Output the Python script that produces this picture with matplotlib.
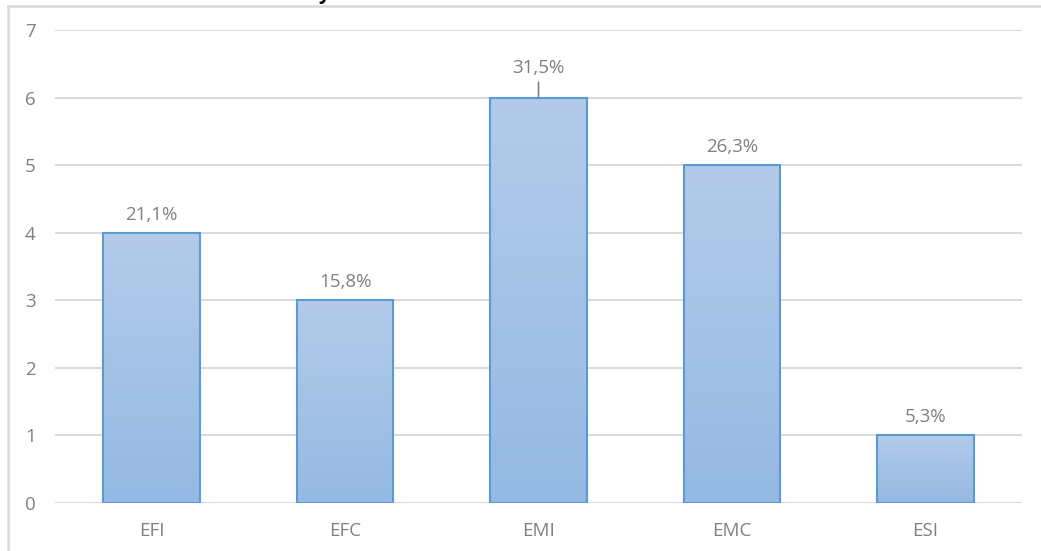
import numpy as np
import matplotlib
matplotlib.use("Agg")
import matplotlib.pyplot as plt
from matplotlib.lines import Line2D
from matplotlib.colors import LinearSegmentedColormap

categories = ["EFI", "EFC", "EMI", "EMC", "ESI"]
counts = [4, 3, 6, 5, 1]
pct_labels = ["21,1%", "15,8%", "31,5%", "26,3%", "5,3%"]

plt.rcParams["font.family"] = ["Open Sans", "DejaVu Sans"]

W, H = 1041, 551
fig = plt.figure(figsize=(W / 100, H / 100), dpi=100)
fig.patch.set_facecolor("white")

ax = fig.add_axes([55 / W, 48 / H, (1022 - 55) / W, (503 - 30) / H])

grid_col = "#d9d9d9"
text_col = "#808080"
edge_col = "#5b9bd5"
fs = 13.5

ax.set_yticks(range(0, 8))
ax.yaxis.grid(True, color=grid_col, linewidth=1.4)
ax.set_axisbelow(True)
for s in ax.spines.values():
    s.set_visible(False)
ax.tick_params(axis="both", length=0, labelsize=fs, labelcolor=text_col)
ax.tick_params(axis="y", pad=14)
ax.tick_params(axis="x", pad=14)
ax.set_xticks(range(len(categories)))
ax.set_xticklabels(categories)

x = np.arange(len(categories))
bars = ax.bar(x, counts, width=0.5, facecolor="none", edgecolor=edge_col,
              linewidth=1.5, zorder=3)

# vertical gradient fill for each bar
cmap = LinearSegmentedColormap.from_list("barfill", ["#95b9e3", "#b3cbe9"])
grad = np.linspace(0, 1, 256).reshape(-1, 1)
for b in bars:
    x0, y0 = b.get_x(), b.get_y()
    w, h = b.get_width(), b.get_height()
    im = ax.imshow(grad, cmap=cmap, aspect="auto", origin="lower",
                   extent=[x0, x0 + w, y0, y0 + h], zorder=2,
                   interpolation="bicubic")
    im.set_clip_path(b)
ax.set_xlim(-0.5, len(categories) - 0.5)
ax.set_ylim(0, 7)

# data labels
for i, (v, lab) in enumerate(zip(counts, pct_labels)):
    if categories[i] == "EMI":
        ax.annotate(lab, xy=(i, v), xytext=(0, 21.6), textcoords="offset points",
                    ha="center", va="center", fontsize=fs, color=text_col,
                    zorder=4)
        ax.annotate("", xy=(i, v), xytext=(0, 11), textcoords="offset points",
                    arrowprops=dict(arrowstyle="-", color=text_col, lw=1.2,
                                    shrinkA=0, shrinkB=0))
    else:
        ax.annotate(lab, xy=(i, v), xytext=(0, 13), textcoords="offset points",
                    ha="center", va="center", fontsize=fs, color=text_col,
                    zorder=4)

# chart frame lines
fig.add_artist(Line2D([8 / W, 1], [1 - 6 / H, 1 - 6 / H], color=grid_col,
                      lw=1.8, transform=fig.transFigure))
fig.add_artist(Line2D([8 / W, 8 / W], [0, 1 - 6 / H], color=grid_col,
                      lw=1.8, transform=fig.transFigure))

# title line sitting just above the visible area
fig.text(318 / W, 1 + 1 / H, "y", fontsize=14, color="black",
         ha="left", va="baseline", fontweight="bold")

fig.savefig("out.png", dpi=100, facecolor="white")
